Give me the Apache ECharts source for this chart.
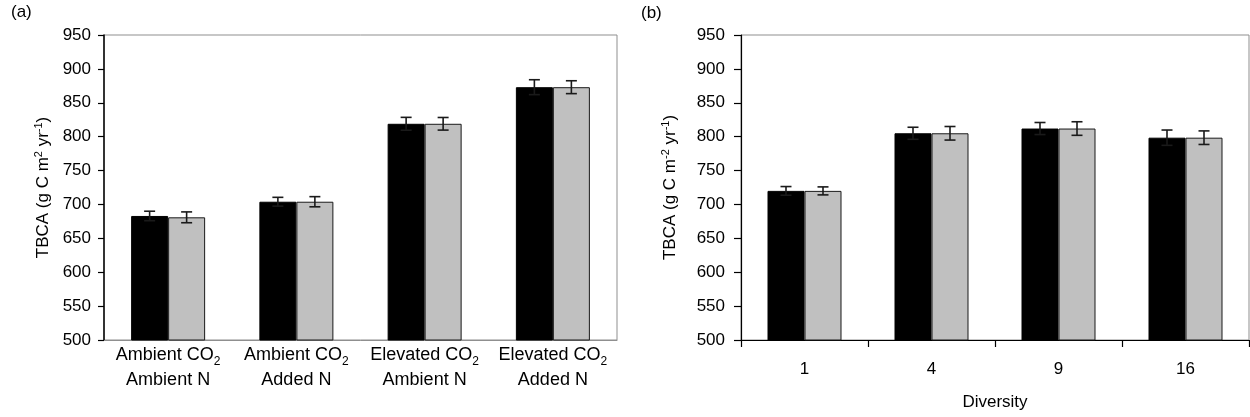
<!DOCTYPE html>
<html>
<head>
<meta charset="utf-8">
<script src="https://cdn.jsdelivr.net/npm/echarts@6/dist/echarts.min.js"></script>
<style>
html,body{margin:0;padding:0;background:#fff;}
#c{width:1250px;height:417px;}
</style>
</head>
<body>
<div id="c"></div>
<script>
// ---- data ----
var categoriesA = ['Ambient CO₂\nAmbient N', 'Ambient CO₂\nAdded N', 'Elevated CO₂\nAmbient N', 'Elevated CO₂\nAdded N'];
var aBlack = [683, 704, 819, 873];
var aBlackErr = [7, 6.5, 9.5, 11];
var aGray = [681, 704, 819, 873];
var aGrayErr = [8, 7.5, 9.3, 9.5];

var categoriesB = ['1', '4', '9', '16'];
var bBlack = [720, 805, 812, 798.5];
var bBlackErr = [6.4, 8.9, 8.9, 11.3];
var bGray = [720, 805, 812, 798.5];
var bGrayErr = [5.9, 10, 10, 10];

var yMin = 500, yMax = 950, yStep = 50;

// ---- chart ----
var FONT = '"Liberation Sans", Arial, sans-serif';
var BAR_W = 37;
var chart = echarts.init(document.getElementById('c'), null, {renderer: 'canvas'});

function errData(vals, errs) {
  return vals.map(function (v, i) { return [i, v, errs[i]]; });
}
function errRender(sign) {
  return function (params, api) {
    var i = api.value(0), v = api.value(1), e = api.value(2);
    var top = api.coord([i, v + e]);
    var bot = api.coord([i, v - e]);
    var x = top[0] + sign * BAR_W / 2;
    var hw = 5.5;
    var st = {stroke: '#1a1a1a', lineWidth: 1.6};
    return {
      type: 'group',
      children: [
        {type: 'line', shape: {x1: x, y1: top[1], x2: x, y2: bot[1]}, style: st},
        {type: 'line', shape: {x1: x - hw, y1: top[1], x2: x + hw, y2: top[1]}, style: st},
        {type: 'line', shape: {x1: x - hw, y1: bot[1], x2: x + hw, y2: bot[1]}, style: st}
      ]
    };
  };
}

var gridBorder = '#8f8f8f';

var option = {
  animation: false,
  backgroundColor: '#fff',
  textStyle: {fontFamily: FONT},
  title: [
    {text: '(a)', left: 11, top: 4, padding: 0, textStyle: {fontFamily: FONT, fontSize: 17, fontWeight: 'normal', color: '#000'}},
    {text: '(b)', left: 641, top: 5, padding: 0, textStyle: {fontFamily: FONT, fontSize: 17, fontWeight: 'normal', color: '#000'}}
  ],
  grid: [
    {left: 104, right: 633, top: 35, bottom: 77, show: true, borderColor: gridBorder, borderWidth: 1, backgroundColor: 'transparent', containLabel: false, outerBoundsMode: 'none'},
    {left: 741, right: 1, top: 35, bottom: 77, show: true, borderColor: gridBorder, borderWidth: 1, backgroundColor: 'transparent', containLabel: false, outerBoundsMode: 'none'}
  ],
  xAxis: [
    {
      type: 'category', gridIndex: 0, data: categoriesA,
      axisLine: {show: true, lineStyle: {color: gridBorder, width: 1}},
      axisTick: {show: false},
      splitLine: {show: false},
      axisLabel: {
        interval: 0, margin: 3, color: '#000', fontFamily: FONT, fontSize: 18, lineHeight: 25,
        formatter: function (v) { return v.replace(/₂/g, '{s|2}'); },
        rich: {s: {fontFamily: FONT, fontSize: 12, lineHeight: 17, verticalAlign: 'bottom', color: '#000'}}
      }
    },
    {
      type: 'category', gridIndex: 1, data: categoriesB,
      name: 'Diversity', nameLocation: 'middle', nameGap: 52,
      nameTextStyle: {fontFamily: FONT, fontSize: 17, lineHeight: 20, color: '#000'},
      axisLine: {show: true, lineStyle: {color: '#000', width: 1.2}},
      axisTick: {show: true, inside: false, length: 7, lineStyle: {color: '#000', width: 1.2}},
      splitLine: {show: false},
      axisLabel: {interval: 0, margin: 19, color: '#000', fontFamily: FONT, fontSize: 17, lineHeight: 20}
    }
  ],
  yAxis: [
    {
      type: 'value', gridIndex: 0, min: yMin, max: yMax, interval: yStep,
      name: 'TBCA (g C m{p|2} yr{p|-1})', nameLocation: 'middle', nameRotate: 90, nameGap: 51,
      nameTextStyle: {fontFamily: FONT, fontSize: 17, lineHeight: 20, color: '#000',
        rich: {p: {fontFamily: FONT, fontSize: 11, lineHeight: 11, verticalAlign: 'top', color: '#000'}}},
      axisLine: {show: true, lineStyle: {color: '#000', width: 1.5}},
      axisTick: {show: true, inside: false, length: 6, lineStyle: {color: '#000', width: 1.2}},
      splitLine: {show: false},
      axisLabel: {margin: 13, color: '#000', fontFamily: FONT, fontSize: 17}
    },
    {
      type: 'value', gridIndex: 1, min: yMin, max: yMax, interval: yStep,
      name: 'TBCA (g C m{p|-2} yr{p|-1})', nameLocation: 'middle', nameRotate: 90, nameGap: 61,
      nameTextStyle: {fontFamily: FONT, fontSize: 17, lineHeight: 20, color: '#000',
        rich: {p: {fontFamily: FONT, fontSize: 11, lineHeight: 11, verticalAlign: 'top', color: '#000'}}},
      axisLine: {show: true, lineStyle: {color: '#000', width: 1.2}},
      axisTick: {show: true, inside: false, length: 7, lineStyle: {color: '#000', width: 1.2}},
      splitLine: {show: false},
      axisLabel: {margin: 16, color: '#000', fontFamily: FONT, fontSize: 17}
    }
  ],
  series: [
    {type: 'bar', xAxisIndex: 0, yAxisIndex: 0, data: aBlack, barWidth: BAR_W, barGap: '0%',
      itemStyle: {color: '#000', borderColor: '#000', borderWidth: 1}},
    {type: 'bar', xAxisIndex: 0, yAxisIndex: 0, data: aGray, barWidth: BAR_W, barGap: '0%',
      itemStyle: {color: '#c0c0c0', borderColor: '#1a1a1a', borderWidth: 1}},
    {type: 'custom', xAxisIndex: 0, yAxisIndex: 0, z: 10, data: errData(aBlack, aBlackErr), renderItem: errRender(-1)},
    {type: 'custom', xAxisIndex: 0, yAxisIndex: 0, z: 10, data: errData(aGray, aGrayErr), renderItem: errRender(1)},

    {type: 'bar', xAxisIndex: 1, yAxisIndex: 1, data: bBlack, barWidth: BAR_W, barGap: '0%',
      itemStyle: {color: '#000', borderColor: '#000', borderWidth: 1}},
    {type: 'bar', xAxisIndex: 1, yAxisIndex: 1, data: bGray, barWidth: BAR_W, barGap: '0%',
      itemStyle: {color: '#c0c0c0', borderColor: '#1a1a1a', borderWidth: 1}},
    {type: 'custom', xAxisIndex: 1, yAxisIndex: 1, z: 10, data: errData(bBlack, bBlackErr), renderItem: errRender(-1)},
    {type: 'custom', xAxisIndex: 1, yAxisIndex: 1, z: 10, data: errData(bGray, bGrayErr), renderItem: errRender(1)}
  ]
};
chart.setOption(option);
</script>
</body>
</html>
